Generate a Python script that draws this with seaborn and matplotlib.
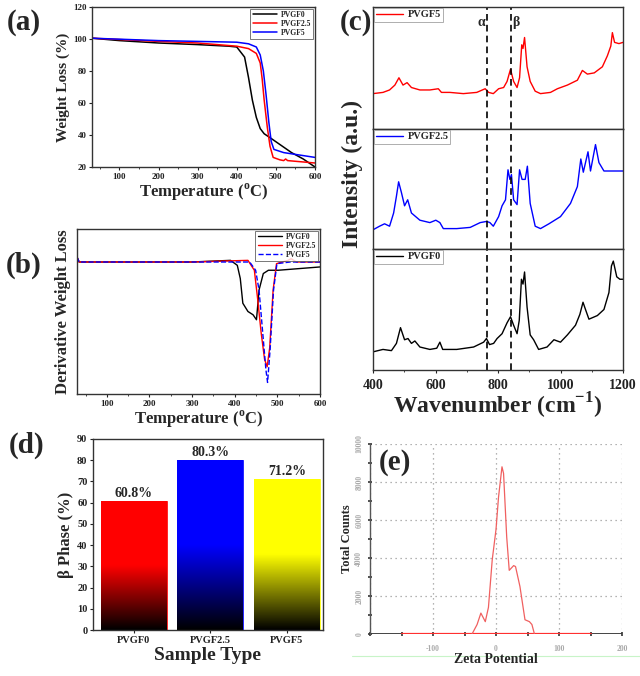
import matplotlib
matplotlib.use("Agg")
import matplotlib.pyplot as plt
import seaborn as sns
import numpy as np
import pandas as pd
from matplotlib.colors import LinearSegmentedColormap
from matplotlib.ticker import MultipleLocator

# ---- data --------------------------------------------------------------
samples = ["PVGF0", "PVGF2.5", "PVGF5"]
sample_colors = ["black", "red", "blue"]

# (a) TGA
tga_t0 = [30, 100, 200, 300, 380, 400, 420, 430, 440, 450, 460, 470, 490, 540, 570, 600]
tga_w0 = [100.5, 99, 97.5, 96.5, 95.5, 95, 88.7, 76, 61.7, 51, 44, 40.8, 37.5, 29, 25, 20]
tga_t25 = [30, 200, 300, 400, 430, 450, 460, 465, 470, 478, 485, 493, 510, 520, 525, 530, 600]
tga_w25 = [100.5, 98.5, 97.5, 95.5, 94, 91, 85, 75, 62, 45, 33, 26, 24.5, 24, 25, 24, 22.5]
tga_t5 = [30, 200, 300, 400, 430, 450, 460, 468, 475, 482, 488, 495, 520, 560, 600]
tga_w5 = [100.5, 99, 98.5, 98, 97, 95, 90, 80, 65, 48, 36, 31, 29, 27.5, 26]

# (b) DTG (arbitrary units)
dtg_t0 = [30, 35, 100, 200, 300, 390, 406, 413, 419, 431, 443, 451, 457, 467, 479, 502, 600]
dtg_d0 = [83, 80, 80, 80, 80, 81, 78, 70, 55, 50, 48, 45, 63, 73, 75, 75, 77]
dtg_t25 = [30, 35, 100, 200, 300, 431, 446, 454, 462, 470, 476, 482, 490, 498, 525, 532, 545, 600]
dtg_d25 = [83, 80, 80, 80, 80, 81, 75, 57, 37, 21, 16.5, 28, 63, 79, 81, 82, 80, 80]
dtg_t5 = [30, 35, 100, 200, 300, 435, 449, 457, 465, 473, 477, 483, 491, 499, 530, 600]
dtg_d5 = [83, 80, 80, 80, 80, 80, 75, 63, 39, 15, 7, 27, 63, 79, 80, 80]

# (c) Raman spectra (relative intensity inside each strip)
wn_5 = [400, 432, 453, 470, 483, 496, 509, 523, 550, 582, 609, 619, 646, 689, 732, 759, 770,
        785, 802, 818, 829, 840, 850, 861, 869, 876, 880, 885, 893, 903, 919, 936, 968, 990,
        1022, 1054, 1070, 1086, 1108, 1134, 1150, 1161, 1166, 1173, 1187, 1200]
int_5 = [29, 30, 32, 36, 42, 36, 38, 34, 32, 32, 33, 30, 30, 29, 30, 33, 30,
         29, 33, 34, 39, 49, 39, 34, 42, 69, 66, 75, 51, 39, 31, 29, 30, 33,
         36, 40, 48, 45, 46, 51, 60, 68, 79, 71, 70, 71]
wn_25 = [400, 421, 437, 453, 466, 475, 482, 491, 501, 511, 523, 550, 582, 601, 614, 625, 668,
         711, 743, 764, 774, 785, 802, 813, 824, 832, 838, 843, 850, 861, 869, 877, 887, 894,
         903, 919, 936, 963, 1000, 1032, 1054, 1065, 1073, 1088, 1096, 1112, 1123, 1139, 1200]
int_25 = [16, 19, 21, 19, 30, 44, 56, 47, 36, 41, 30, 24, 22, 24, 22, 17, 17,
          18, 22, 23, 22, 19, 27, 36, 41, 66, 58, 62, 41, 37, 66, 58, 58, 69,
          38, 19, 17, 21, 27, 38, 52, 75, 64, 81, 65, 87, 72, 65, 65]
wn_0 = [400, 432, 459, 475, 488, 501, 512, 523, 534, 550, 582, 604, 614, 623, 668, 722, 754,
        763, 773, 786, 797, 813, 829, 840, 850, 861, 868, 875, 880, 885, 893, 903, 914, 930,
        957, 979, 1000, 1022, 1048, 1062, 1072, 1080, 1091, 1118, 1139, 1155, 1163, 1169,
        1180, 1190, 1200]
int_0 = [15, 17, 16, 22, 35, 25, 26, 22, 24, 19, 17, 18, 23, 17, 17, 19, 23,
         26, 21, 22, 26, 30, 39, 44, 37, 30, 41, 75, 71, 81, 52, 29, 25, 17,
         19, 25, 23, 29, 37, 46, 56, 50, 42, 45, 50, 64, 86, 90,
         77, 75, 75]
alpha_wn = 764
beta_wn = 841

# (d) beta phase fraction
beta_phase = [60.8, 80.3, 71.2]
bar_colors = ["#ff0000", "#0000ff", "#ffff00"]

# (e) zeta potential
zeta_x = [-38, -30, -24, -17, -12, -6, 0, 4, 9.5, 12, 17, 21, 28, 31, 38, 46, 53, 57, 61]
zeta_y = [0, 500, 1100, 650, 1400, 3900, 5500, 7200, 8800, 8450, 5100, 3350, 3600, 3550,
          2500, 750, 650, 500, 0]
zeta_base_red = [-150, 150]
zeta_base_left = [-200, -150]
zeta_base_right = [150, 200]

# ---- style --------------------------------------------------------------
sns.set_style("ticks")
plt.rcParams["font.family"] = ["Liberation Serif", "DejaVu Serif"]
plt.rcParams["font.weight"] = "bold"
plt.rcParams["axes.labelweight"] = "bold"
plt.rcParams["axes.linewidth"] = 1.0
plt.rcParams["axes.edgecolor"] = "#333333"
plt.rcParams["mathtext.fontset"] = "custom"
plt.rcParams["mathtext.rm"] = "Liberation Serif:bold"
plt.rcParams["mathtext.bf"] = "Liberation Serif:bold"

W, H = 640, 676
fig = plt.figure(figsize=(W / 100, H / 100), dpi=100)


def px_axes(left, top, right, bottom):
    return fig.add_axes([left / W, 1 - bottom / H, (right - left) / W, (bottom - top) / H])


def panel_tag(x, y, s, size=21):
    fig.text(x / W, 1 - y / H, s, ha="center", va="center", fontsize=size, fontweight="bold")


def tidy_ticks(ax, size=6.5, pad=1.5):
    ax.tick_params(direction="out", length=2.5, width=0.8, labelsize=size, pad=pad, colors="#222222")
    ax.tick_params(which="minor", direction="out", length=1.5, width=0.6)
    for lab in ax.get_xticklabels() + ax.get_yticklabels():
        lab.set_fontweight("bold")


# ---- (a) TGA -------------------------------------------------------------
ax_a = px_axes(92, 7, 315, 167)
for t, w, name, c in [(tga_t0, tga_w0, samples[0], sample_colors[0]),
                      (tga_t25, tga_w25, samples[1], sample_colors[1]),
                      (tga_t5, tga_w5, samples[2], sample_colors[2])]:
    sns.lineplot(x=t, y=w, ax=ax_a, color=c, lw=1.1, label=name, sort=False)
ax_a.set_xlim(30, 600)
ax_a.set_ylim(20, 120)
ax_a.xaxis.set_minor_locator(MultipleLocator(50))
ax_a.yaxis.set_major_locator(MultipleLocator(20))
ax_a.set_xticks([100, 200, 300, 400, 500, 600])
ax_a.set_xlabel("Temperature ($^{\\mathrm{o}}$C)", fontsize=12, labelpad=1)
ax_a.set_ylabel("Weight Loss (%)", fontsize=11, labelpad=2)
tidy_ticks(ax_a)
leg = ax_a.legend(loc="upper right", fontsize=5.5, frameon=True, fancybox=False, handlelength=3.2,
                  borderpad=0.3, labelspacing=0.15, handletextpad=0.5, borderaxespad=0.2)
leg.get_frame().set_edgecolor("#555555")
leg.get_frame().set_linewidth(0.7)
panel_tag(24, 22, "(a)")

# ---- (b) DTG -------------------------------------------------------------
ax_b = px_axes(77, 229, 320, 394)
for t, d, name, c in [(dtg_t0, dtg_d0, samples[0], sample_colors[0]),
                      (dtg_t25, dtg_d25, samples[1], sample_colors[1]),
                      (dtg_t5, dtg_d5, samples[2], sample_colors[2])]:
    sns.lineplot(x=t, y=d, ax=ax_b, color=c, lw=1.0, label=name, sort=False,
                 linestyle="--" if name == "PVGF5" else "-")
ax_b.set_xlim(30, 600)
ax_b.set_ylim(0, 100)
ax_b.set_xticks([100, 200, 300, 400, 500, 600])
ax_b.xaxis.set_minor_locator(MultipleLocator(50))
ax_b.set_yticks([])
ax_b.set_xlabel("Temperature ($^{\\mathrm{o}}$C)", fontsize=12, labelpad=1)
ax_b.set_ylabel("Derivative Weight Loss", fontsize=12, labelpad=4)
tidy_ticks(ax_b)
leg = ax_b.legend(loc="upper right", fontsize=5.5, frameon=True, fancybox=False, handlelength=3.2,
                  borderpad=0.3, labelspacing=0.15, handletextpad=0.5, borderaxespad=0.2)
leg.get_frame().set_edgecolor("#555555")
leg.get_frame().set_linewidth(0.7)
panel_tag(24, 265, "(b)")

# ---- (c) Raman -----------------------------------------------------------
strips = [(7, 129, wn_5, int_5, "PVGF5", "red"),
          (129, 249, wn_25, int_25, "PVGF2.5", "blue"),
          (249, 370, wn_0, int_0, "PVGF0", "black")]
c_axes = []
for top, bot, wn, inten, name, c in strips:
    ax = px_axes(373, top, 623, bot)
    sns.lineplot(x=wn, y=inten, ax=ax, color=c, lw=1.0, label=name, sort=False)
    ax.axvline(alpha_wn, color="black", ls=(0, (4, 2.5)), lw=1.2)
    ax.axvline(beta_wn, color="black", ls=(0, (4, 2.5)), lw=1.2)
    ax.set_xlim(400, 1200)
    ax.set_ylim(0, 100)
    ax.set_yticks([])
    ax.set_xticks([400, 600, 800, 1000, 1200])
    ax.xaxis.set_minor_locator(MultipleLocator(100))
    leg = ax.legend(loc="upper left", fontsize=7.5, frameon=True, fancybox=False, handlelength=2.6,
                    borderpad=0.2, handletextpad=0.4, borderaxespad=0.1)
    leg.get_frame().set_edgecolor("#999999")
    leg.get_frame().set_linewidth(0.7)
    tidy_ticks(ax, size=10, pad=4)
    c_axes.append(ax)
for ax in c_axes[:-1]:
    ax.tick_params(labelbottom=False, length=0, which="both")
c_axes[0].text(alpha_wn - 5, 87, "α", ha="right", va="center", fontsize=10)
c_axes[0].text(beta_wn + 6, 87, "β", ha="left", va="center", fontsize=10)
c_axes[-1].set_xlabel("Wavenumber (cm$^{\\mathbf{-1}}$)", fontsize=17, labelpad=-1)
fig.text(352 / W, 1 - 174 / H, "Intensity (a.u.)", rotation=90, ha="center", va="center",
         fontsize=17, fontweight="bold")
panel_tag(356, 22, "(c)")

# ---- (d) beta phase bars -------------------------------------------------
ax_d = px_axes(93, 439, 323, 630)
bar_df = pd.DataFrame({"sample": samples, "beta": beta_phase})
sns.barplot(data=bar_df, x="sample", y="beta", ax=ax_d, width=0.86, palette=bar_colors,
            hue="sample", legend=False, edgecolor="none", saturation=1)
for patch, col, val in zip(ax_d.patches, bar_colors, beta_phase):
    x0, y0 = patch.get_x(), patch.get_y()
    w, h = patch.get_width(), patch.get_height()
    cmap = LinearSegmentedColormap.from_list("g", ["#000000", col, col], N=256)
    grad = np.linspace(0, 1, 256).reshape(-1, 1)
    img = ax_d.imshow(grad, cmap=cmap, origin="lower", aspect="auto",
                      extent=(x0, x0 + w, y0, y0 + h), zorder=patch.get_zorder() + 0.1)
    img.set_clip_path(patch)
    patch.set_facecolor("none")
    patch.set_edgecolor(col)
    patch.set_linewidth(0.6)
    ax_d.text(x0 + w / 2, y0 + h + 0.5, f"{val}%", ha="center", va="bottom", fontsize=10,
              fontweight="bold")
ax_d.set_aspect("auto")
ax_d.set_xlim(-0.53, 2.47)
ax_d.set_ylim(0, 90)
ax_d.yaxis.set_major_locator(MultipleLocator(10))
ax_d.set_xlabel("Sample Type", fontsize=14, labelpad=2)
ax_d.set_ylabel("β Phase (%)", fontsize=12, labelpad=2)
tidy_ticks(ax_d, size=7.5)
panel_tag(27, 445, "(d)")

# ---- (e) zeta potential --------------------------------------------------
ax_e = px_axes(370, 444, 622, 634)
sns.lineplot(x=zeta_base_left, y=[0, 0], ax=ax_e, color="#333333", lw=2.0)
sns.lineplot(x=zeta_base_right, y=[0, 0], ax=ax_e, color="#333333", lw=2.0)
sns.lineplot(x=zeta_base_red, y=[0, 0], ax=ax_e, color="#ff3030", lw=1.6)
sns.lineplot(x=zeta_x, y=zeta_y, ax=ax_e, color="#f06060", lw=0.9, sort=False)
ax_e.set_xlim(-200, 200)
ax_e.set_ylim(0, 10000)
ax_e.set_xticks([-200, -100, 0, 100, 200])
ax_e.set_xticklabels(["", "-100", "0", "100", "200"])
ax_e.set_yticks([0, 2000, 4000, 6000, 8000, 10000])
ax_e.xaxis.set_minor_locator(MultipleLocator(50))
ax_e.yaxis.set_minor_locator(MultipleLocator(1000))
ax_e.grid(True, which="major", color="#9a9a9a", ls=(0, (1, 3)), lw=0.9)
for side in ["top", "right", "bottom"]:
    ax_e.spines[side].set_visible(False)
ax_e.spines["left"].set_color("#555555")
ax_e.tick_params(axis="both", which="both", direction="inout", length=2.5, width=1.2,
                 colors="#333333", labelcolor="#aaaaaa", labelsize=5.5)
ax_e.tick_params(axis="x", pad=7)
for lab in ax_e.get_yticklabels():
    lab.set_rotation(90)
    lab.set_va("center")
ax_e.set_xlabel("Zeta Potential", fontsize=10, labelpad=0)
ax_e.set_ylabel("Total Counts", fontsize=9, labelpad=2)
ax_e.plot([-0.07, 1.12], [-0.115, -0.115], transform=ax_e.transAxes, clip_on=False,
          color="#c8f4c8", lw=0.8, zorder=0)
ax_e.text(-160, 9000, "(e)", ha="center", va="center", fontsize=21, fontweight="bold")

fig.savefig("out.png", dpi=100)
